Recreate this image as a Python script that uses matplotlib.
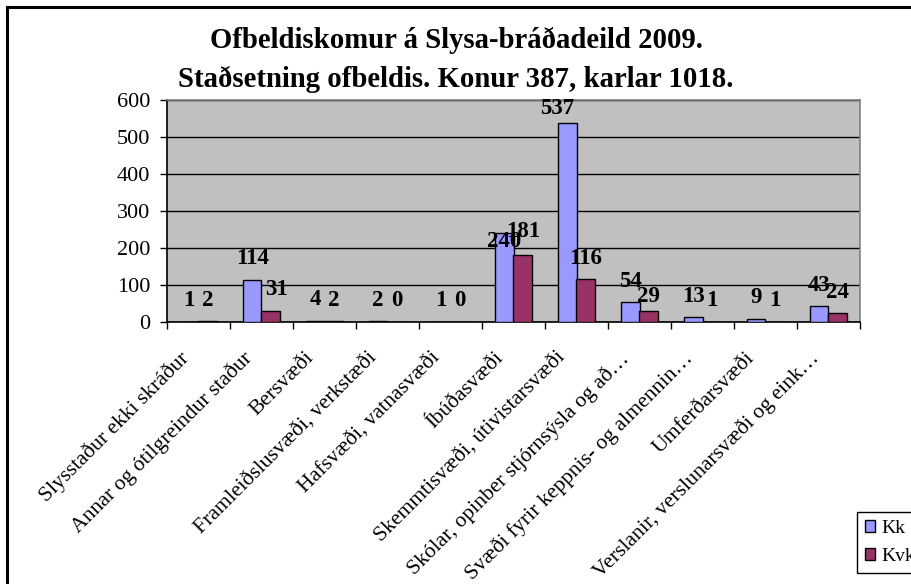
import matplotlib
matplotlib.use("Agg")
import matplotlib.pyplot as plt
import matplotlib.patches as mpatches
from matplotlib.transforms import ScaledTranslation
import numpy as np

categories = [
    "Slysstaður ekki skráður",
    "Annar og ótilgreindur staður",
    "Bersvæði",
    "Framleiðslusvæði, verkstæði",
    "Hafsvæði, vatnasvæði",
    "Íbúðasvæði",
    "Skemmtisvæði, útivistarsvæði",
    "Skólar, opinber stjórnsýsla og að…",
    "Svæði fyrir keppnis- og almennin…",
    "Umferðarsvæði",
    "Verslanir, verslunarsvæði og eink…",
]
kk = [1, 114, 4, 2, 1, 240, 537, 54, 13, 9, 43]
kvk = [2, 31, 2, 0, 0, 181, 116, 29, 1, 1, 24]
series_names = ["Kk", "Kvk"]
title = "Ofbeldiskomur á Slysa-bráðadeild 2009.\nStaðsetning ofbeldis. Konur 387, karlar 1018."

plt.rcParams['font.family'] = ['Liberation Serif', 'DejaVu Serif']

fig = plt.figure(figsize=(9.12, 5.84), dpi=100)
W, H = 912, 584
ax = fig.add_axes([167 / W, 1 - 322 / H, (860 - 167) / W, (322 - 100) / H])
ax.set_facecolor("#C0C0C0")

x = np.arange(len(categories))
bw = 0.295
c_kk = "#9999FF"
c_kvk = "#993366"
ax.bar(x - bw / 2, kk, bw, color=c_kk, edgecolor="black", linewidth=1.0, zorder=3, label=series_names[0])
ax.bar(x + bw / 2, kvk, bw, color=c_kvk, edgecolor="black", linewidth=1.0, zorder=3, label=series_names[1])

# label placement tweaks (Excel-like auto placement), in pixels
kk_dy = {5: -8, 6: 15}
kk_dx = {6: -10}
kvk_dy = {5: 24, 7: 15}
kvk_dx = {1: 6}
for i, (xi, v) in enumerate(zip(x, kk)):
    ax.annotate(str(v), (xi - bw / 2, v),
                xytext=(kk_dx.get(i, 0) * 0.72, kk_dy.get(i, 21) * 0.72), textcoords="offset points",
                ha="center", va="center", fontsize=16.5, fontweight="bold", zorder=5)
for i, (xi, v) in enumerate(zip(x, kvk)):
    ax.annotate(str(v), (xi + bw / 2, v),
                xytext=(kvk_dx.get(i, 0) * 0.72, kvk_dy.get(i, 21) * 0.72), textcoords="offset points",
                ha="center", va="center", fontsize=16.5, fontweight="bold", zorder=5)

ax.set_xlim(-0.5, len(categories) - 0.5)
ax.set_ylim(0, 600)
ax.set_yticks(range(0, 601, 100))
ax.yaxis.grid(True, color="black", linewidth=1.0, zorder=1)
ax.set_axisbelow(True)
ax.tick_params(axis="y", labelsize=16, direction="out", length=5, width=1, pad=7)

ax.set_xticks(x)
ax.set_xticklabels(categories, rotation=45, ha="right", rotation_mode="anchor", fontsize=15.6)
ax.tick_params(axis="x", which="major", length=0, pad=19)
ax.set_xticks(np.arange(-0.5, len(categories)), minor=True)
ax.tick_params(axis="x", which="minor", length=5, width=1, direction="out")
shift = ScaledTranslation(-20 / 100, 0, fig.dpi_scale_trans)
for lab in ax.get_xticklabels():
    lab.set_transform(lab.get_transform() + shift)

for s in ["left", "bottom"]:
    ax.spines[s].set_color("black")
    ax.spines[s].set_linewidth(1.2)
for s in ["top", "right"]:
    ax.spines[s].set_color("#808080")
    ax.spines[s].set_linewidth(1.2)

fig.suptitle(title, fontsize=20.7, fontweight="bold", y=1 - 27 / H, va="top", linespacing=1.55,
             x=0.5)

h1 = mpatches.Patch(facecolor=c_kk, edgecolor="black", linewidth=1.0)
h2 = mpatches.Patch(facecolor=c_kvk, edgecolor="black", linewidth=1.0)
leg = fig.legend([h1, h2], series_names, loc="lower left",
                 bbox_to_anchor=(857 / W, 1 - 573 / H), fontsize=14, frameon=True,
                 fancybox=False, edgecolor="black", framealpha=1,
                 handlelength=0.55, handleheight=0.55, handletextpad=0.3,
                 borderpad=0.4, labelspacing=0.6, borderaxespad=0)
leg.get_frame().set_linewidth(1.0)

border = mpatches.Rectangle((7 / W, -0.1), 1.2, 1 - 7 / H + 0.1, transform=fig.transFigure,
                            fill=False, edgecolor="black", linewidth=2.2, clip_on=False)
fig.patches.append(border)

fig.savefig("out.png", dpi=100)
